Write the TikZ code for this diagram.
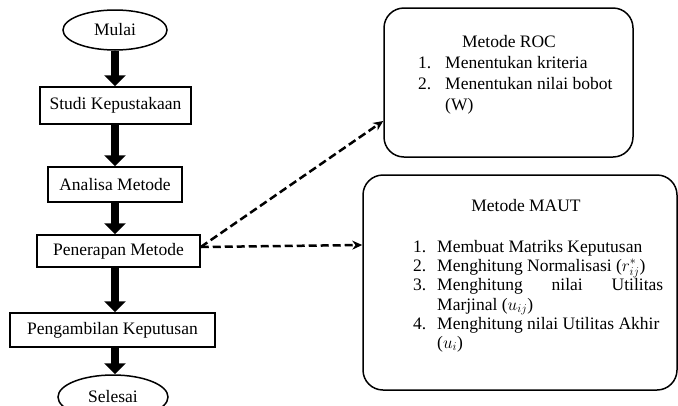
\documentclass[tikz,border=0pt]{standalone}
\usepackage{fontspec}
\setmainfont{Liberation Serif}
\usetikzlibrary{arrows.meta,shapes.geometric}
\begin{document}
\begin{tikzpicture}[x=1pt,y=-1pt,
  every node/.style={font=\fontsize{17.5}{20}\selectfont, inner sep=0pt},
  procbox/.style={draw, line width=1.5pt},
  term/.style={draw, ellipse, line width=1.5pt},
  flow/.style={line width=8pt, -{Triangle[width=21pt,length=11pt]}},
  link/.style={line width=2.5pt, dash pattern=on 8pt off 4pt, -{Stealth[length=10pt,width=9pt]}},
  panel/.style={draw, rounded corners=20pt, line width=1.5pt},
  txt/.style={anchor=base west},
  ttl/.style={anchor=base}
]
\useasboundingbox (0,0) rectangle (678,405);

% main flow
\node[term, minimum width=104pt, minimum height=40pt] (mulai) at (115,30) {Mulai};
\node[procbox, minimum width=151pt, minimum height=37pt] (studi) at (115.5,105.5) {Studi Kepustakaan};
\node[procbox, minimum width=134pt, minimum height=35pt] (analisa) at (115,184.5) {Analisa Metode};
\node[procbox, minimum width=163pt, minimum height=32pt] (penerapan) at (118.5,251) {Penerapan Metode};
\node[procbox, minimum width=205pt, minimum height=34pt] (ambil) at (112.5,330) {Pengambilan Keputusan};
\node[term, minimum width=110pt, minimum height=44pt] (selesai) at (113,397) {Selesai};

\coordinate (spine) at (115,0);
\draw[flow] (spine |- mulai.south) -- (spine |- studi.north);
\draw[flow] (spine |- studi.south) -- (spine |- analisa.north);
\draw[flow] (spine |- analisa.south) -- (spine |- penerapan.north);
\draw[flow] (spine |- penerapan.south) -- (spine |- ambil.north);
\draw[flow] (spine |- ambil.south) -- (spine |- selesai.north);

% ROC panel
\node[panel, minimum width=249pt, minimum height=149pt] (roc) at (508.5,82.5) {};
\node[ttl] (rocT) at (509,47) {Metode ROC};
\node[txt] (roc1n) at (418,68) {1.};
\node[txt] (roc1) at (445,68) {Menentukan kriteria};
\node[txt] (roc2n) at (418,89) {2.};
\node[txt] (roc2) at (445,89) {Menentukan nilai bobot};
\node[txt] (roc2b) at (445,110) {(W)};

% MAUT panel
\node[panel, minimum width=314pt, minimum height=215pt] (maut) at (520,282.5) {};
\node[ttl] (mautT) at (526,211) {Metode MAUT};
\node[txt] (m1n) at (413,252) {1.};
\node[txt] (m1) at (437,252) {Membuat Matriks Keputusan};
\node[txt] (m2n) at (413,271) {2.};
\node[txt] (m2) at (437,271) {Menghitung Normalisasi ($r_{ij}^{*}$)};
\node[txt] (m3n) at (413,290) {3.};
\node[txt] (m3) at (437,290) {\makebox[226pt][s]{Menghitung nilai Utilitas}};
\node[txt] (m3b) at (437,310) {Marjinal ($u_{ij}$)};
\node[txt] (m4n) at (413,329) {4.};
\node[txt] (m4) at (437,329) {Menghitung nilai Utilitas Akhir};
\node[txt] (m4b) at (437,348) {($u_{i}$)};

% dashed links
\draw[link] ([yshift=4pt]penerapan.east) -- ([yshift=-38.5pt]roc.west);
\draw[link] ([yshift=4pt]penerapan.east) -- ([yshift=37.5pt]maut.west);
\end{tikzpicture}
\end{document}
